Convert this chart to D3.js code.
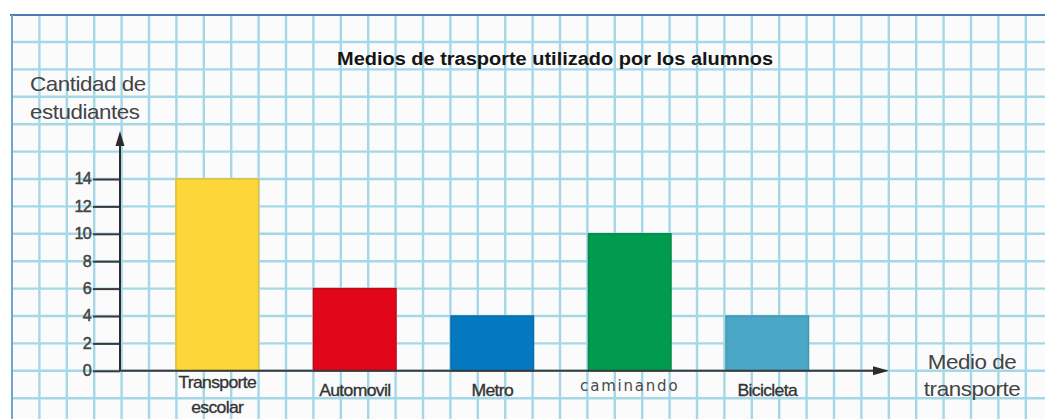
<!DOCTYPE html>
<html>
<head>
<meta charset="utf-8">
<script src="https://cdn.jsdelivr.net/npm/d3@7"></script>
<style>
  html, body { margin: 0; padding: 0; background: #ffffff; }
  svg { display: block; }
</style>
</head>
<body>
<svg id="chart" width="1045" height="419"></svg>
<script>
// ---- data ----
const categories = ["Transporte escolar", "Automovil", "Metro", "caminando", "Bicicleta"];
const values = [14, 6, 4, 10, 4];
const barColors = ["#FDD73A", "#E2061B", "#0579C0", "#009B4E", "#4BA7C6"];
const yTicks = [0, 2, 4, 6, 8, 10, 12, 14];
const title = "Medios de trasporte utilizado por los alumnos";
const yTitle = ["Cantidad de", "estudiantes"];
const xTitle = ["Medio de", "transporte"];

const W = 1045, H = 419;
const svg = d3.select("#chart");
svg.append("rect").attr("x", 12).attr("y", 15).attr("width", W).attr("height", H).attr("fill", "#fbfbfb");

// scales
const y = d3.scaleLinear().domain([0, 14]).range([370.8, 179]);
const x = d3.scaleBand().domain(categories).range([121, 863.5]).paddingInner(0.4).paddingOuter(0.4);

// ---- graph-paper grid ----
const cell = y(0) - y(2);
const gridG = svg.append("g");
const gx0 = 12, gy0 = 15;
const hLines = [];
for (let gy = y(0) + cell; gy > gy0 + 3; gy -= cell) hLines.push(gy);
const vLines = [];
for (let gx = gx0 + cell; gx < W; gx += cell) vLines.push(gx);
gridG.selectAll("line.h").data(hLines).join("line")
  .attr("x1", gx0).attr("x2", W).attr("y1", d => d).attr("y2", d => d)
  .attr("stroke", "#A5D8E7").attr("stroke-width", 2.4);
gridG.selectAll("line.v").data(vLines).join("line")
  .attr("y1", gy0).attr("y2", H).attr("x1", d => d).attr("x2", d => d)
  .attr("stroke", "#A5D8E7").attr("stroke-width", 2.4);
// borders
gridG.append("line").attr("x1", gx0 - 2).attr("x2", W).attr("y1", gy0).attr("y2", gy0)
  .attr("stroke", "#4C78B4").attr("stroke-width", 2);
gridG.append("line").attr("x1", gx0).attr("x2", gx0).attr("y1", gy0).attr("y2", H)
  .attr("stroke", "#6FA6CF").attr("stroke-width", 2);

// helper for horizontally stretched text
function stext(g, str, px, py, opts) {
  const t = g.append("text")
    .attr("transform", `translate(${px},${py}) scale(${opts.sx || 1},1)`)
    .attr("text-anchor", opts.anchor || "middle")
    .attr("dominant-baseline", "middle")
    .style("font-family", opts.family || "'Liberation Sans', Arial, sans-serif")
    .style("font-size", (opts.size || 14) + "px")
    .style("font-weight", opts.weight || "normal")
    .style("fill", opts.fill || "#3a3a3a")
    .text(str);
  if (opts.ls !== undefined) t.style("letter-spacing", opts.ls + "px");
  if (opts.stroke) t.style("stroke", opts.fill || "#3a3a3a").style("stroke-width", opts.stroke);
  return t;
}

// ---- bars ----
svg.append("g").selectAll("rect").data(categories).join("rect")
  .attr("x", d => x(d))
  .attr("width", x.bandwidth())
  .attr("y", (d, i) => y(values[i]))
  .attr("height", (d, i) => y(0) - y(values[i]))
  .attr("fill", (d, i) => barColors[i])
  .attr("stroke", (d, i) => d3.color(barColors[i]).darker(0.3))
  .attr("stroke-width", 1.5);

// ---- y axis ----
const yAxisG = svg.append("g").attr("transform", "translate(120,0)")
  .call(d3.axisLeft(y).tickValues(yTicks).tickSize(27).tickPadding(0).tickFormat(""));
yAxisG.select(".domain").remove();
yAxisG.selectAll(".tick line").attr("stroke", "#3a3a3a").attr("stroke-width", 2);
yTicks.forEach(v => {
  stext(svg, String(v), 91, y(v) + 1, { anchor: "end", size: 17, sx: 0.95, ls: -0.8, fill: "#444", stroke: 0.5 });
});
svg.append("line").attr("x1", 120).attr("x2", 120).attr("y1", y(0)).attr("y2", 140)
  .attr("stroke", "#2c2c2c").attr("stroke-width", 2);
svg.append("path").attr("d", "M120,131 L115.5,146 L124.5,146 Z").attr("fill", "#2c2c2c");

// ---- x axis ----
svg.append("line").attr("x1", 120).attr("x2", 878).attr("y1", y(0)).attr("y2", y(0))
  .attr("stroke", "#3a3a3a").attr("stroke-width", 2);
svg.append("path").attr("d", `M889,${y(0)} L873,${y(0) - 4.5} L873,${y(0) + 4.5} Z`).attr("fill", "#2c2c2c");

// category labels
categories.forEach((c, i) => {
  const cx = x(c) + x.bandwidth() / 2;
  if (c === "caminando") {
    stext(svg, c, cx, 386, { size: 15, ls: 1.8, family: "'DejaVu Sans', Verdana, sans-serif", fill: "#4a4a4a", sx: 1 });
  } else {
    const parts = c.split(" ");
    parts.forEach((p, k) => {
      stext(svg, p, cx, 392 + k * 25 - (parts.length > 1 ? 8 : 0), { size: 16, sx: 1.1, ls: -0.6, fill: "#333", stroke: 0.3 });
    });
  }
});

// ---- titles ----
svg.append("text").attr("x", 555).attr("y", 60)
  .attr("text-anchor", "middle").attr("dominant-baseline", "middle")
  .attr("textLength", 436).attr("lengthAdjust", "spacingAndGlyphs")
  .style("font-family", "'Liberation Sans', Arial, sans-serif")
  .style("font-size", "18px").style("font-weight", "bold").style("fill", "#151515")
  .text(title);

yTitle.forEach((t, k) => {
  stext(svg, t, 30, 86 + k * 28, { anchor: "start", size: 20, sx: 1.12, ls: -0.4, fill: "#444" });
});
xTitle.forEach((t, k) => {
  stext(svg, t, 972, 364 + k * 27, { anchor: "middle", size: 20, sx: 1.12, ls: -0.4, fill: "#444" });
});
</script>
</body>
</html>
